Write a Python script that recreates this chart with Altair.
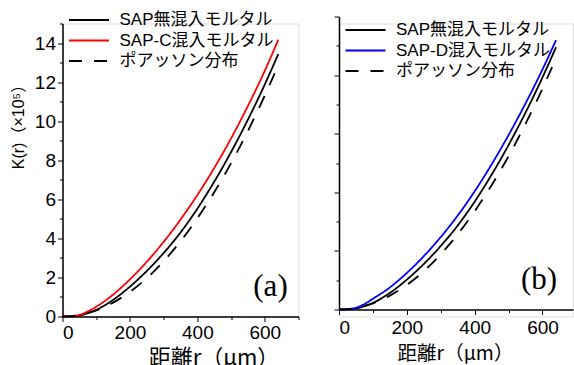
import altair as alt
import pandas as pd

# distance r (μm) at which K(r) is sampled
r_um = [0, 25, 50, 75, 100, 150, 200, 250, 300, 350, 400, 450, 500, 550, 600, 640]

# K(r) in units of 10^5
k_plain = [0, 0.01, 0.05, 0.17, 0.34, 0.85, 1.53, 2.33, 3.25, 4.30, 5.52, 6.90, 8.42, 10.08, 11.88, 13.43]
k_sap_c = [0, 0.02, 0.08, 0.26, 0.50, 1.12, 1.90, 2.80, 3.82, 4.96, 6.22, 7.60, 9.12, 10.78, 12.58, 14.17]
k_sap_d = [0, 0.02, 0.09, 0.28, 0.55, 1.13, 1.87, 2.73, 3.71, 4.81, 6.05, 7.43, 8.93, 10.55, 12.29, 13.79]
k_poisson = [0, 0.02, 0.08, 0.18, 0.31, 0.71, 1.26, 1.96, 2.83, 3.85, 5.03, 6.36, 7.85, 9.50, 11.31, 12.87]

NAME_PLAIN = "SAP無混入モルタル"
NAME_C = "SAP-C混入モルタル"
NAME_D = "SAP-D混入モルタル"
NAME_POISSON = "ポアッソン分布"

FONT = "Liberation Sans, Noto Sans CJK JP"
CJK = "Noto Sans CJK JP"
SERIF = "Liberation Serif"

PANEL_H = 293


def long_table(names, series):
    rows = []
    for name, vals in zip(names, series):
        for r, k in zip(r_um, vals):
            rows.append({"r": r, "K": k, "series": name})
    return pd.DataFrame(rows)


def panel(names, series, colors, tag, x_max, width, y_step, y_major, show_y,
          lift, legend_xy, tag_xy, x_title):
    df = long_table(names, series)
    # a short custom path scaled up into a 40 px wide line sample
    legend = alt.Legend(
        title=None, orient="none", legendX=legend_xy[0], legendY=legend_xy[1],
        symbolType="M-10,0H10", symbolSize=16, labelFontSize=17, labelFont=FONT,
        labelColor="black", rowPadding=2.5, padding=0, labelOffset=22,
    )
    y_values = [round(i * y_step, 2) for i in range(int(round(15 / y_step)) + 1)]
    y_axis = alt.Axis(
        values=y_values,
        title="K(r)（×10⁵）" if show_y else None,
        titleFont=FONT, titleFontSize=16, titleFontWeight="normal", titleColor="black",
        titleX=-44, titleY=99, titleAngle=270, titleAlign="center", titleBaseline="middle",
        labels=show_y,
        labelExpr=f"datum.value % {y_major} == 0 ? datum.label : ''",
        labelFont=FONT, labelFontSize=19, labelColor="black", labelPadding=2,
        tickSize={"condition": {"test": f"datum.value % {y_major} == 0", "value": 5}, "value": 3},
        tickColor="black", domainColor="black", domainWidth=1.5, grid=False,
    )
    x_axis = alt.Axis(
        values=[v for v in range(0, x_max + 1, 100)],
        title="距離r（μm）", titleFont=CJK, titleFontSize=x_title["size"],
        titleFontWeight="normal", titleColor="black",
        titleX=x_title["x"], titleY=x_title["y"], titleAlign="center", titleBaseline="top",
        labelExpr="datum.value % 200 == 0 ? datum.label : ''",
        labelFont=FONT, labelFontSize=19, labelColor="black", labelPadding=x_title["label_pad"],
        tickSize={"condition": {"test": "datum.value % 200 == 0", "value": 5}, "value": 3},
        tickColor="black", domainColor="black", domainWidth=1.5, grid=False,
        offset=-lift,
    )
    lines = alt.Chart(df).mark_line(clip=False, interpolate="monotone").encode(
        x=alt.X("r:Q", scale=alt.Scale(domain=[0, x_max], nice=False), axis=x_axis),
        y=alt.Y("K:Q", scale=alt.Scale(domain=[0, 15], nice=False,
                                       range=[PANEL_H - lift, -lift]), axis=y_axis),
        color=alt.Color("series:N", scale=alt.Scale(domain=names, range=colors), legend=legend),
        strokeDash=alt.StrokeDash("series:N", scale=alt.Scale(domain=names, range=[[1, 0], [1, 0], [13, 12]]), legend=legend),
        strokeWidth=alt.StrokeWidth("series:N", scale=alt.Scale(domain=names, range=[1.8, 1.8, 3.2]), legend=legend),
        order=alt.Order("r:Q"),
    )
    label = alt.Chart(pd.DataFrame({"tag": [tag]})).mark_text(
        font=SERIF, fontSize=31, color="black", align="center", baseline="middle"
    ).encode(text="tag:N", x=alt.value(tag_xy[0]), y=alt.value(tag_xy[1]))
    return alt.layer(lines, label).properties(width=width, height=PANEL_H)


left = panel(
    [NAME_PLAIN, NAME_C, NAME_POISSON], [k_plain, k_sap_c, k_poisson],
    ["#000000", "#ff0000", "#000000"], "(a)", 700, 236, 1, 2, True,
    0, (18, -12), (208, 263),
    {"size": 22, "x": 151, "y": 31, "label_pad": 2},
)
right = panel(
    [NAME_PLAIN, NAME_D, NAME_POISSON], [k_plain, k_sap_d, k_poisson],
    ["#000000", "#0000ff", "#000000"], "(b)", 690, 234, 1.5, 3, False,
    7, (18, -2), (200, 256),
    {"size": 19.5, "x": 116, "y": 35, "label_pad": 4},
)

chart = alt.hconcat(left, right, spacing=33.5).resolve_scale(
    color="independent", strokeDash="independent", strokeWidth="independent"
).configure_view(stroke=None).configure(
    background="white", padding={"left": 9.5, "top": 10.5, "right": 0, "bottom": 0}
)

chart.save("out.html", embed_options={"renderer": "svg", "actions": False})
